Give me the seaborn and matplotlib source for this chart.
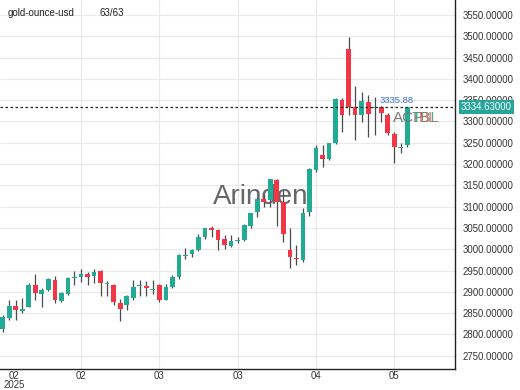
import numpy as np
import pandas as pd
import matplotlib
matplotlib.use("Agg")
import matplotlib.pyplot as plt
import matplotlib.transforms as mtransforms
import seaborn as sns

# ---------------- data ----------------
opens = [2812, 2839, 2866, 2855, 2865, 2916, 2896, 2904, 2928, 2878,
         2896, 2932, 2935, 2941, 2937, 2949, 2918, 2916, 2873, 2869,
         2885, 2914, 2914, 2905, 2916, 2882, 2912, 2934, 2985, 2988,
         2998, 3029, 3049, 3045, 3023, 3008, 3019, 3022, 3054, 3088,
         3117, 3115, 3163, 3112, 2999, 2980, 2975, 3088, 3185, 3221,
         3211, 3249, 3350, 3470, 3333, 3315, 3346, 3332, 3333, 3315,
         3271, 3238, 3245]
highs = [2845, 2880, 2880, 2885, 2920, 2941, 2908, 2932, 2938, 2900,
         2935, 2949, 2953, 2946, 2953, 2951, 2926, 2918, 2883, 2892,
         2928, 2928, 2926, 2928, 2918, 2918, 2939, 2989, 3002, 3000,
         3037, 3051, 3055, 3047, 3033, 3033, 3029, 3059, 3086, 3122,
         3127, 3166, 3164, 3139, 3051, 3010, 3096, 3190, 3245, 3245,
         3250, 3354, 3354, 3499, 3383, 3370, 3362, 3358, 3336, 3319,
         3276, 3249, 3335]
lows = [2806, 2834, 2834, 2851, 2864, 2882, 2865, 2902, 2874, 2876,
        2892, 2917, 2923, 2917, 2921, 2890, 2890, 2869, 2832, 2857,
        2880, 2890, 2890, 2896, 2877, 2880, 2909, 2930, 2977, 2982,
        2996, 3023, 3029, 2998, 3000, 3005, 3014, 3020, 3051, 3076,
        3100, 3100, 3055, 3018, 2955, 2962, 2971, 3078, 3182, 3194,
        3209, 3248, 3276, 3315, 3256, 3299, 3264, 3268, 3299, 3268,
        3203, 3225, 3241]
closes = [2841, 2866, 2857, 2859, 2917, 2898, 2905, 2930, 2880, 2898,
          2933, 2934, 2941, 2935, 2947, 2920, 2920, 2877, 2859, 2890,
          2912, 2916, 2910, 2906, 2882, 2912, 2935, 2986, 2987, 2998,
          3029, 3049, 3046, 3022, 3010, 3019, 3020, 3057, 3084, 3119,
          3112, 3164, 3112, 3035, 2981, 2977, 3086, 3188, 3238, 3212,
          3249, 3352, 3315, 3335, 3315, 3348, 3318, 3334, 3319, 3272,
          3239, 3240, 3334]

y_ticks = list(range(2750, 3551, 50))
x_tick_pos = [1.7, 12, 24, 36, 48, 60]
x_tick_labels = ["02\n2025", "02", "03", "03", "04", "05"]
grid_x = [12, 24, 36, 48, 60]
last_price = 3334.63
marker_price = 3335.88
marker_pos = 57.8
symbol = "gold-ounce-usd"
count_label = "63/63"
watermark = "Arinden"

df = pd.DataFrame({"open": opens, "high": highs, "low": lows, "close": closes})
df["idx"] = np.arange(len(df))
df["up"] = df["close"] >= df["open"]

# ---------------- style ----------------
sns.set_theme(style="white")
plt.rcParams['font.family'] = ['Liberation Sans', 'DejaVu Sans']

UP = "#22ab94"
DOWN = "#f23645"
WICK = "#4a4a4a"
GRID = "#e9e9e9"

W, H = 520, 390
fig = plt.figure(figsize=(W / 100, H / 100), dpi=100)
fig.patch.set_facecolor("white")
ax = fig.add_axes([0, 21 / H, 455 / W, 369 / H])
ax.set_facecolor("white")

ax.set_xlim(-0.41, 69.3)
ax.set_ylim(2719, 3585)

# grid
for yv in y_ticks:
    ax.axhline(yv, color=GRID, lw=0.8, zorder=0)
for xv in grid_x:
    ax.axvline(xv, color=GRID, lw=0.8, zorder=0)

# watermark
ax.text(39.5, 3106, watermark, fontsize=20, color="#555555", ha="center",
        va="baseline", zorder=1, alpha=0.9)

# candles: wicks
ax.vlines(df["idx"], df["low"], df["high"], color=WICK, lw=0.9, zorder=2)
# bodies
body_bottom = np.minimum(df["open"], df["close"])
body_h = np.maximum(np.abs(df["close"] - df["open"]), 1.6)
colors = [UP if u else DOWN for u in df["up"]]
ax.bar(df["idx"], body_h, bottom=body_bottom, width=0.72, color=colors,
       edgecolor="none", zorder=3)

# last price dashed line
ax.axhline(last_price, color="#222222", lw=0.9, ls=(0, (2, 2)), zorder=4)

# marker label
ax.text(marker_pos, 3350, f"{marker_price:.2f}", fontsize=6.8, color="#3b6fd4",
        ha="left", va="center", zorder=5)

# overlapping labels
ax.text(57.8 + 2.0, 3308, "ACP", fontsize=11, color="#7a7a7a", ha="left",
        va="center", zorder=5)
ax.text(62.7, 3308, "TBL", fontsize=11, color="#3aa57a", ha="left",
        va="center", zorder=5, alpha=0.9)
ax.text(63.8, 3308, "BL", fontsize=11, color="#d9534f", ha="left",
        va="center", zorder=5, alpha=0.8)

# axes spines
for s in ["left", "top"]:
    ax.spines[s].set_visible(False)
for s in ["right", "bottom"]:
    ax.spines[s].set_color("#222222")
    ax.spines[s].set_linewidth(1.0)

# y ticks on right
ax.yaxis.tick_right()
ax.set_yticks(y_ticks)
ax.set_yticklabels([f"{v:.5f}" for v in y_ticks])
ax.tick_params(axis="y", length=0, pad=5.6, labelsize=6.9, labelcolor="#333333")

# x ticks
ax.set_xticks(x_tick_pos)
ax.set_xticklabels(x_tick_labels, linespacing=0.85)
ax.tick_params(axis="x", length=0, pad=1.5, labelsize=6.9, labelcolor="#333333")
ax.grid(False)

# clipped extra y labels (3600 and 2700)
clip = mtransforms.Bbox([[455, 390 - 369], [520, 390]])
trans = mtransforms.blended_transform_factory(ax.transAxes, ax.transData)
for v in [3600, 2700]:
    t = ax.text(463 / 455, v, f"{v:.5f}", transform=trans, fontsize=6.9,
                color="#333333", ha="left", va="center", clip_on=True)
    t.set_clip_box(clip)

# price box
ax.text(461 / 455, last_price, f"{last_price:.5f}", transform=trans,
        fontsize=6.9, color="white", ha="left", va="center", zorder=6,
        bbox=dict(boxstyle="square,pad=0.22", facecolor="#26a69a",
                  edgecolor="none"))

# header texts
fig.text(8 / W, 1 - 12.7 / H, symbol, fontsize=7, color="#222222",
         ha="left", va="center")
fig.text(100 / W, 1 - 12.7 / H, count_label, fontsize=7, color="#222222",
         ha="left", va="center")

fig.savefig("out.png", dpi=100, facecolor="white")
